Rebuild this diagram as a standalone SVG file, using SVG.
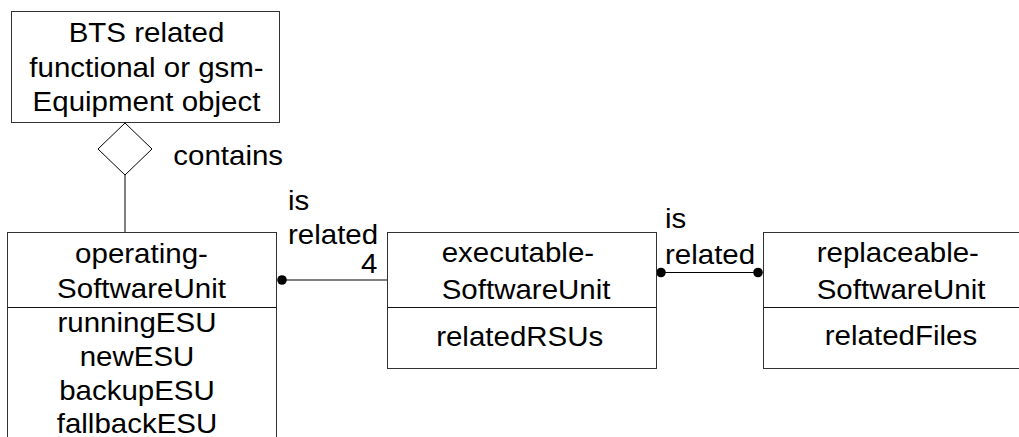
<svg xmlns="http://www.w3.org/2000/svg" width="1019" height="437" viewBox="0 0 1019 437">
<style>
.box{fill:#fff;stroke:#333;stroke-width:1}
.div{stroke:#111;stroke-width:1}
.con{stroke:#000;stroke-width:1;fill:none}
.dot{fill:#000}
text{font-family:"Liberation Sans",Arial,sans-serif;font-size:27.5px;fill:#000}
.c{text-anchor:middle}
.s{text-anchor:start}
.e{text-anchor:end}
</style>
<rect width="1019" height="437" fill="#fff"/>
<g id="connectors">
<line class="con" x1="125" y1="175" x2="125" y2="232"/>
<polygon class="con" points="125,123 152,149 125,175 98,149" fill="#fff"/>
<line class="con" x1="282" y1="280" x2="387" y2="280"/>
<circle class="dot" cx="282" cy="280" r="4.8"/>
<line class="con" x1="661" y1="272.5" x2="758" y2="272.5"/>
<circle class="dot" cx="661" cy="272.5" r="4.8"/>
<circle class="dot" cx="758" cy="272.5" r="4.8"/>
</g>
<g id="node-bts">
<rect class="box" x="11.5" y="11.5" width="268" height="111"/>
</g>
<g id="node-operating">
<rect class="box" x="7.5" y="232.5" width="269" height="220"/>
<line class="div" x1="7.5" y1="307.5" x2="276.5" y2="307.5"/>
</g>
<g id="node-executable">
<rect class="box" x="387.5" y="232.5" width="269" height="136"/>
<line class="div" x1="387.5" y1="307.5" x2="656.5" y2="307.5"/>
</g>
<g id="node-replaceable">
<rect class="box" x="763.5" y="232.5" width="270" height="136"/>
<line class="div" x1="763.5" y1="307.5" x2="1033.5" y2="307.5"/>
</g>
<g id="labels" transform="scale(1.0727,1)">
<text class="c" x="136.57" y="42">BTS related</text>
<text class="c" x="136.57" y="77">functional or gsm-</text>
<text class="c" x="136.57" y="111">Equipment object</text>
<text class="c" x="131.91" y="263">operating-</text>
<text class="c" x="131.91" y="298">SoftwareUnit</text>
<text class="c" x="127.72" y="332">runningESU</text>
<text class="c" x="127.72" y="366">newESU</text>
<text class="c" x="127.72" y="400">backupESU</text>
<text class="c" x="127.72" y="433">fallbackESU</text>
<text class="s" x="411.77" y="262">executable-</text>
<text class="s" x="411.77" y="299">SoftwareUnit</text>
<text class="c" x="484.48" y="346.5">relatedRSUs</text>
<text class="s" x="761.35" y="262">replaceable-</text>
<text class="s" x="761.35" y="299">SoftwareUnit</text>
<text class="c" x="839.94" y="345.5">relatedFiles</text>
<text class="s" x="161.56" y="165">contains</text>
<text class="s" x="268.48" y="210">is</text>
<text class="s" x="268.48" y="244">related</text>
<text class="e" x="351.73" y="273">4</text>
<text class="s" x="619.94" y="228">is</text>
<text class="s" x="619.94" y="264">related</text>
</g>
</svg>
